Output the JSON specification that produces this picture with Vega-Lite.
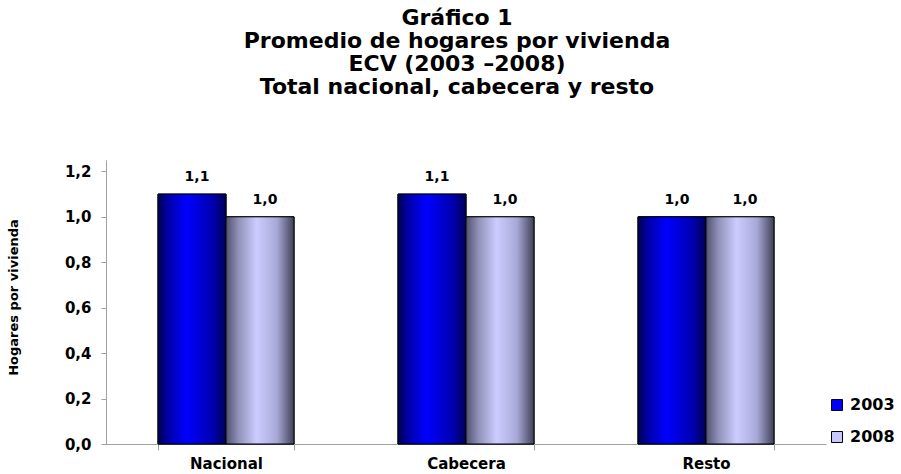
{
  "$schema": "https://vega.github.io/schema/vega-lite/v6.json",
  "width": 720,
  "height": 284,
  "autosize": {"type": "none"},
  "padding": {"left": 106, "top": 160, "right": 75, "bottom": 30},
  "background": "white",
  "config": {
    "locale": {"number": {"decimal": ",", "thousands": ".", "grouping": [3], "currency": ["$", ""]}},
    "view": {"stroke": null},
    "font": "DejaVu Sans"
  },
  "title": {
    "text": ["Gráfico 1", "Promedio de hogares por vivienda", "ECV (2003 –2008)", "Total nacional, cabecera y resto"],
    "font": "DejaVu Sans",
    "fontSize": 22,
    "fontWeight": "bold",
    "color": "black",
    "anchor": "middle",
    "frame": "group",
    "dx": -9,
    "lineHeight": 23,
    "baseline": "alphabetic",
    "offset": 44
  },
  "data": {
    "values": [
      {"zona": "Nacional", "anio": "2003", "valor": 1.1},
      {"zona": "Nacional", "anio": "2008", "valor": 1.0},
      {"zona": "Cabecera", "anio": "2003", "valor": 1.1},
      {"zona": "Cabecera", "anio": "2008", "valor": 1.0},
      {"zona": "Resto", "anio": "2003", "valor": 1.0},
      {"zona": "Resto", "anio": "2008", "valor": 1.0}
    ]
  },
  "encoding": {
    "x": {
      "field": "zona",
      "type": "nominal",
      "sort": ["Nacional", "Cabecera", "Resto"],
      "scale": {"paddingInner": 0.4333, "paddingOuter": 0.2167},
      "axis": {
        "title": null,
        "labelAngle": 0,
        "labelFont": "DejaVu Sans",
        "labelFontSize": 15,
        "labelFontWeight": "bold",
        "labelColor": "black",
        "labelPadding": 6,
        "labelBaseline": "top",
        "tickBand": "extent",
        "tickSize": 6,
        "tickColor": "#A0A0A0",
        "domainColor": "#A0A0A0"
      }
    },
    "xOffset": {"field": "anio", "type": "nominal", "scale": {"paddingInner": 0, "paddingOuter": 0}},
    "y": {
      "field": "valor",
      "type": "quantitative",
      "scale": {"domain": [0, 1.25], "nice": false},
      "axis": {
        "title": "Hogares por vivienda",
        "titleFont": "DejaVu Sans",
        "titleFontSize": 13,
        "titleFontWeight": "bold",
        "titleColor": "black",
        "titleX": -86,
        "titleY": 137,
        "titleAlign": "center",
        "values": [0, 0.2, 0.4, 0.6, 0.8, 1.0, 1.2],
        "format": ".1f",
        "grid": false,
        "labelFont": "DejaVu Sans",
        "labelFontSize": 15,
        "labelFontWeight": "bold",
        "labelColor": "black",
        "labelPadding": 10,
        "tickSize": 5,
        "tickColor": "#A0A0A0",
        "domainColor": "#A0A0A0"
      }
    }
  },
  "layer": [
    {
      "mark": {"type": "bar", "stroke": "black", "strokeWidth": 1},
      "encoding": {
        "color": {
          "field": "anio",
          "type": "nominal",
          "scale": {"domain": ["2003", "2008"], "range": ["#0000FF", "#C8C8FF"]},
          "legend": {
            "title": null,
            "orient": "none",
            "legendX": 723,
            "legendY": 237,
            "symbolType": "square",
            "symbolSize": 121,
            "symbolStrokeColor": "black",
            "symbolStrokeWidth": 1,
            "symbolOpacity": 1,
            "labelFont": "DejaVu Sans",
            "labelFontSize": 16,
            "labelFontWeight": "bold",
            "labelColor": "black",
            "labelOffset": 5,
            "rowPadding": 16,
            "padding": 0
          }
        }
      }
    },
    {
      "transform": [{"filter": "datum.anio === '2003'"}],
      "mark": {
        "type": "bar",
        "stroke": "black",
        "strokeWidth": 1,
        "color": {
          "gradient": "linear", "x1": 0, "x2": 1, "y1": 0, "y2": 0,
          "stops": [
            {"offset": 0, "color": "#000050"},
            {"offset": 0.15, "color": "#0000A8"},
            {"offset": 0.42, "color": "#0000FF"},
            {"offset": 0.8, "color": "#0000B0"},
            {"offset": 1, "color": "#000058"}
          ]
        }
      }
    },
    {
      "transform": [{"filter": "datum.anio === '2008'"}],
      "mark": {
        "type": "bar",
        "stroke": "black",
        "strokeWidth": 1,
        "color": {
          "gradient": "linear", "x1": 0, "x2": 1, "y1": 0, "y2": 0,
          "stops": [
            {"offset": 0, "color": "#505070"},
            {"offset": 0.18, "color": "#9090B8"},
            {"offset": 0.45, "color": "#CCCCFF"},
            {"offset": 0.75, "color": "#A8A8D8"},
            {"offset": 1, "color": "#404058"}
          ]
        }
      }
    },
    {
      "mark": {
        "type": "text",
        "font": "DejaVu Sans",
        "fontSize": 14,
        "fontWeight": "bold",
        "color": "black",
        "baseline": "alphabetic",
        "dy": -13,
        "dx": 5
      },
      "encoding": {
        "text": {"field": "valor", "type": "quantitative", "format": ".1f"}
      }
    }
  ]
}
